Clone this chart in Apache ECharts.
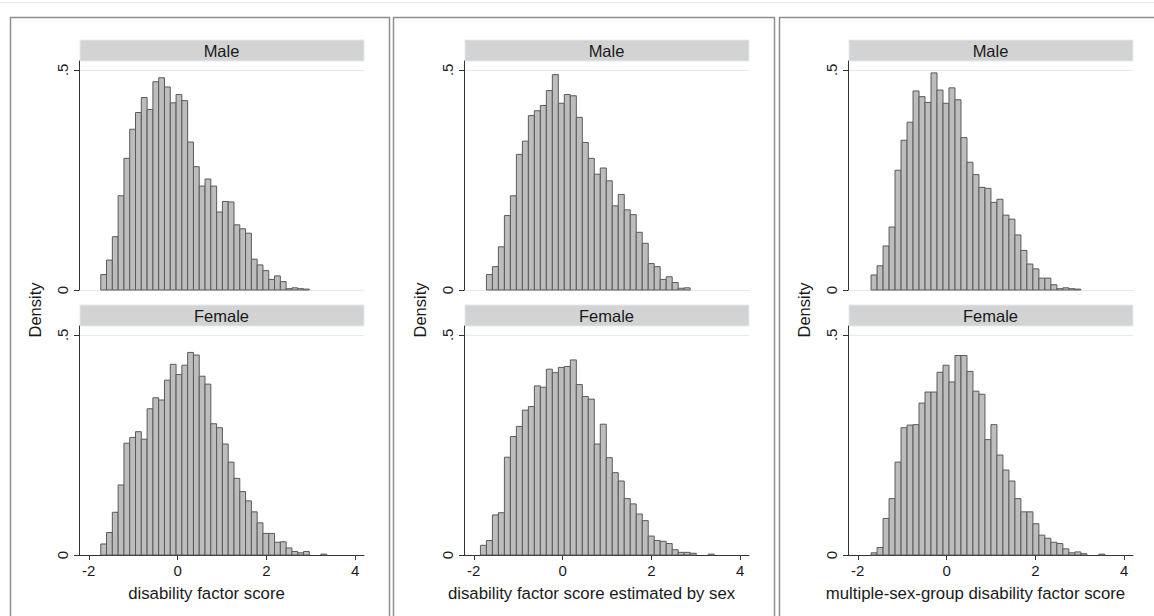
<!DOCTYPE html>
<html>
<head>
<meta charset="utf-8">
<script src="https://cdn.jsdelivr.net/npm/echarts@6/dist/echarts.min.js"></script>
<style>
html,body{margin:0;padding:0;background:#ffffff;}
#chart{width:1154px;height:616px;}
</style>
</head>
<body>
<div id="chart"></div>
<script>
// ---------------- data ----------------
const panelTitles = [
  'disability factor score',
  'disability factor score estimated by sex',
  'multiple-sex-group disability factor score'
];
const groupLabels = ['Male', 'Female'];
const yAxisTitle = 'Density';
const xTickValues = [-2, 0, 2, 4];
const yTickValues = [0, 0.5];

// histogram bins (x units) for each panel: first bin edge and bin width
const binStart = [-1.73, -1.85, -1.70];
const binWidth = [0.1305, 0.135, 0.135];

// densities per bin
const p1Male = [0.035,0.068,0.121,0.214,0.299,0.365,0.403,0.437,0.410,0.473,0.482,0.461,0.425,0.444,0.430,0.336,0.280,0.236,0.252,0.236,0.177,0.201,0.200,0.148,0.139,0.129,0.070,0.057,0.044,0.024,0.032,0.019,0.003,0.005,0.003,0.002];
const p1Female = [0.025,0.051,0.097,0.159,0.254,0.267,0.280,0.263,0.332,0.357,0.352,0.397,0.433,0.410,0.431,0.460,0.454,0.406,0.388,0.298,0.289,0.252,0.211,0.174,0.144,0.123,0.098,0.073,0.049,0.049,0.029,0.030,0.016,0.008,0.005,0.008,0,0,0.002];
const p2Male = [0,0.035,0.053,0.098,0.169,0.214,0.308,0.338,0.396,0.407,0.419,0.453,0.489,0.424,0.444,0.441,0.392,0.335,0.299,0.263,0.277,0.248,0.191,0.217,0.182,0.171,0.131,0.106,0.060,0.053,0.024,0.030,0.017,0.004,0.005];
const p2Female = [0.022,0.033,0.091,0.096,0.222,0.269,0.292,0.329,0.337,0.384,0.381,0.422,0.414,0.426,0.428,0.443,0.387,0.360,0.354,0.252,0.297,0.221,0.187,0.168,0.128,0.116,0.093,0.078,0.043,0.033,0.031,0.026,0.012,0.006,0.006,0.004,0,0,0.002];
const p3Male = [0.034,0.055,0.100,0.143,0.272,0.340,0.381,0.452,0.439,0.426,0.493,0.454,0.424,0.459,0.432,0.346,0.290,0.262,0.233,0.231,0.199,0.206,0.170,0.161,0.125,0.090,0.059,0.048,0.027,0.027,0.012,0.003,0.005,0.003,0.002];
const p3Female = [0.005,0.017,0.083,0.128,0.211,0.289,0.295,0.296,0.345,0.370,0.370,0.415,0.431,0.393,0.453,0.453,0.417,0.372,0.365,0.262,0.296,0.227,0.193,0.168,0.128,0.098,0.098,0.071,0.045,0.038,0.029,0.026,0.014,0.005,0.007,0.003,0,0,0.002];

const panelData = [[p1Male, p1Female], [p2Male, p2Female], [p3Male, p3Female]];

// ---------------- layout ----------------
const FONT = "'Liberation Sans', Arial, Helvetica, sans-serif";
const gridLeft = [79, 464, 848];
const gridWidth = 285;
const gridTop = [61, 326];
const gridHeight = 229;
const stripHeight = 21;
const boxes = [[10, 379], [393, 381], [779, 400]];
const xMin = -2.22, xMax = 4.2, yMax = 0.52;

const grids = [], xAxes = [], yAxes = [], series = [], graphics = [];

graphics.push({type:'line', shape:{x1:0,y1:2.5,x2:1154,y2:2.5}, style:{stroke:'#dfe8ea', lineWidth:1}, silent:true});

for (let p = 0; p < 3; p++) {
  graphics.push({type:'rect', shape:{x:boxes[p][0]+0.5, y:17.5, width:boxes[p][1], height:700},
    style:{fill:'none', stroke:'#8e8e8e', lineWidth:1.5}, silent:true, z:-10});
  graphics.push({type:'text', x: gridLeft[p] - 44, y: 310, rotation: Math.PI/2,
    style:{text: yAxisTitle, font: '16.5px ' + FONT, fill:'#1a1a1a', align:'center', verticalAlign:'middle'}, silent:true});
  for (let g = 0; g < 2; g++) {
    const idx = p * 2 + g;
    grids.push({left: gridLeft[p], top: gridTop[g], width: gridWidth, height: gridHeight});
    graphics.push({type:'rect', shape:{x: gridLeft[p] + 1, y: gridTop[g] - stripHeight, width: gridWidth - 1, height: stripHeight},
      style:{fill:'#d3d3d3', stroke:'#e2eaee', lineWidth:1}, silent:true});
    graphics.push({type:'text', x: gridLeft[p] + gridWidth/2, y: gridTop[g] - stripHeight/2,
      style:{text: groupLabels[g], font: '16.5px ' + FONT, fill:'#1a1a1a', align:'center', verticalAlign:'middle'}, silent:true});
    const bottom = g === 1;
    xAxes.push({
      type:'value', gridIndex: idx, min: xMin, max: xMax,
      name: bottom ? panelTitles[p] : '', nameLocation:'middle', nameGap: 30,
      nameTextStyle:{fontSize:16.8, color:'#1a1a1a', fontFamily: FONT, padding:[0, 30, 0, 0]},
      axisLine:{show: bottom, onZero:false, lineStyle:{color:'#333333', width:1}},
      axisTick:{show: bottom, customValues: xTickValues, length:5, lineStyle:{color:'#333333'}},
      axisLabel:{show: bottom, customValues: xTickValues, fontSize:15, color:'#1a1a1a', margin:8, fontFamily: FONT},
      splitLine:{show:false}
    });
    yAxes.push({
      type:'value', gridIndex: idx, min: 0, max: yMax,
      axisLine:{show:true, onZero:false, lineStyle:{color:'#333333', width:1}},
      axisTick:{show:true, customValues: yTickValues, length:5, lineStyle:{color:'#333333'}},
      axisLabel:{show:true, customValues: yTickValues, rotate:90, fontSize:15, color:'#1a1a1a', margin:9, fontFamily: FONT,
        formatter: v => String(v).replace(/^0\./, '.')},
      splitLine:{show:true, lineStyle:{color:'#e3ebee', width:1}}
    });
    const st = binStart[p], w = binWidth[p];
    const data = panelData[p][g].map((v, i) => [st + i * w, st + (i + 1) * w, v]);
    series.push({
      type:'custom', xAxisIndex: idx, yAxisIndex: idx, silent:true, animation:false,
      encode:{x:[0,1], y:2},
      data: data,
      renderItem: function (params, api) {
        const h = api.value(2);
        if (!h) return null;
        const a = api.coord([api.value(0), h]);
        const b = api.coord([api.value(1), 0]);
        return {type:'rect', shape:{x:a[0], y:a[1], width:b[0]-a[0], height:b[1]-a[1]},
          style:{fill:'#bdbdbd', stroke:'#5a5a5a', lineWidth:1}};
      }
    });
  }
}

const chart = echarts.init(document.getElementById('chart'), null, {renderer:'svg'});
chart.setOption({
  animation:false,
  backgroundColor:'#ffffff',
  textStyle:{fontFamily: FONT},
  grid: grids, xAxis: xAxes, yAxis: yAxes, series: series,
  graphic: graphics
});
</script>
</body>
</html>
